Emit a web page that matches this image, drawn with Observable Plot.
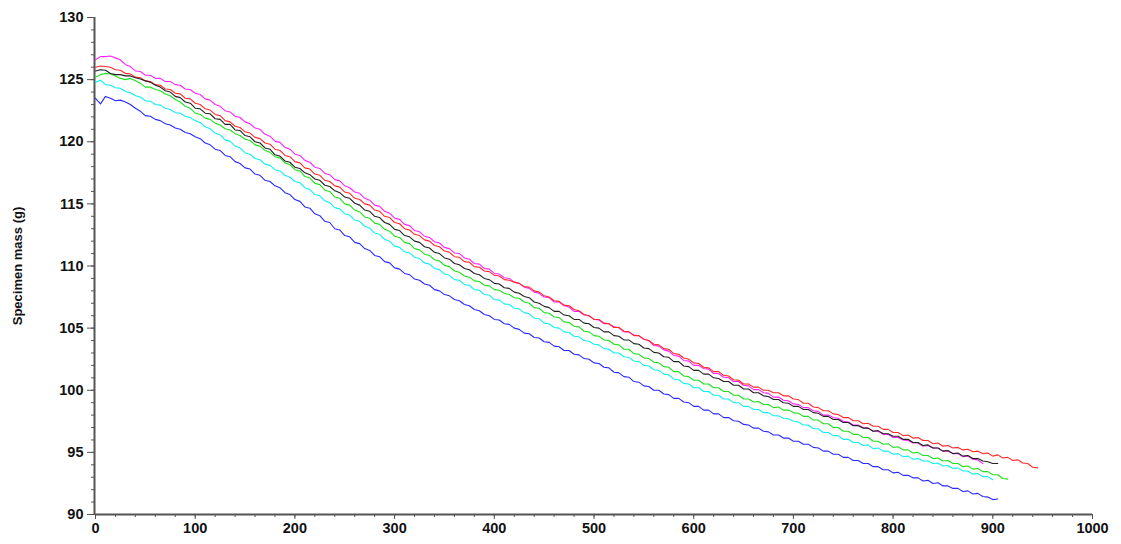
<!DOCTYPE html>
<html>
<head>
<meta charset="utf-8">
<script src="https://cdn.jsdelivr.net/npm/d3@7"></script>
<script src="https://cdn.jsdelivr.net/npm/@observablehq/plot@0.6"></script>
<style>
  html, body { margin: 0; padding: 0; background: #fff; }
  #chart svg { display: block; }
</style>
</head>
<body>
<div id="chart"></div>
<script>
// Sampling grid (s), every 5 s; each series stops at its own length
const times = d3.range(0, 950, 5);

const magenta = [126.6,126.85,126.85,126.9,126.75,126.6,126.2,126.05,125.7,125.65,
  125.35,125.35,125.1,125.1,124.85,124.85,124.6,124.55,124.25,124.2,
  123.9,123.8,123.45,123.35,123.0,122.85,122.5,122.4,122.05,121.95,
  121.6,121.45,121.1,121.0,120.6,120.45,120.05,119.95,119.55,119.4,
  119.0,118.9,118.5,118.35,117.95,117.85,117.45,117.35,116.95,116.85,
  116.45,116.3,115.95,115.85,115.45,115.3,114.9,114.8,114.4,114.25,
  113.85,113.75,113.35,113.25,112.85,112.75,112.4,112.3,111.95,111.85,
  111.5,111.4,111.05,111.0,110.65,110.55,110.2,110.15,109.8,109.75,
  109.4,109.35,109.05,109.0,108.7,108.6,108.3,108.2,107.9,107.8,
  107.5,107.45,107.1,107.1,106.8,106.7,106.35,106.35,106.05,106.0,
  105.7,105.65,105.35,105.35,105.1,105.05,104.7,104.7,104.45,104.4,
  104.1,104.0,103.6,103.55,103.25,103.15,102.8,102.75,102.4,102.35,
  102.0,102.0,101.75,101.7,101.35,101.35,101.05,101.0,100.7,100.7,
  100.4,100.35,100.05,100.05,99.8,99.75,99.45,99.45,99.2,99.15,
  98.9,98.85,98.6,98.6,98.35,98.3,98.0,98.0,97.8,97.75,
  97.5,97.45,97.2,97.2,97.0,96.95,96.7,96.7,96.45,96.45,
  96.2,96.2,96.0,95.95,95.75,95.75,95.5,95.55,95.35,95.35,
  95.1,95.1,94.9,94.9,94.65,94.7,94.45,94.4,94.1];

const red = [126.0,126.1,126.05,126.0,125.8,125.75,125.5,125.45,125.2,125.15,
  124.9,124.85,124.6,124.55,124.25,124.2,123.9,123.85,123.5,123.45,
  123.1,123.0,122.65,122.55,122.2,122.1,121.7,121.6,121.25,121.15,
  120.8,120.7,120.35,120.25,119.9,119.8,119.4,119.3,118.9,118.8,
  118.4,118.3,117.9,117.8,117.4,117.3,116.9,116.8,116.45,116.35,
  115.95,115.85,115.45,115.35,115.0,114.9,114.5,114.4,114.0,113.9,
  113.5,113.4,113.0,112.9,112.55,112.45,112.1,112.0,111.65,111.55,
  111.2,111.1,110.75,110.7,110.35,110.3,109.95,109.9,109.6,109.55,
  109.25,109.2,108.9,108.85,108.7,108.6,108.35,108.3,108.0,107.9,
  107.6,107.5,107.2,107.15,106.85,106.8,106.5,106.4,106.1,106.0,
  105.7,105.7,105.4,105.35,105.05,105.05,104.75,104.7,104.4,104.4,
  104.1,104.0,103.7,103.65,103.35,103.3,102.95,102.9,102.6,102.5,
  102.2,102.15,101.85,101.8,101.5,101.5,101.2,101.15,100.85,100.8,
  100.5,100.5,100.25,100.25,100.0,100.0,99.8,99.8,99.55,99.55,
  99.3,99.25,98.95,98.95,98.65,98.6,98.35,98.35,98.1,98.05,
  97.8,97.8,97.55,97.55,97.3,97.35,97.1,97.1,96.85,96.85,
  96.6,96.6,96.35,96.4,96.15,96.2,95.95,95.95,95.7,95.75,
  95.5,95.55,95.35,95.4,95.2,95.25,95.05,95.1,94.9,94.95,
  94.7,94.8,94.55,94.6,94.35,94.4,94.15,94.1,93.8,93.75];

const black = [125.7,125.8,125.75,125.5,125.4,125.4,125.3,125.3,125.15,125.05,
  124.9,124.8,124.55,124.4,124.1,124.0,123.65,123.55,123.2,123.1,
  122.7,122.65,122.3,122.25,121.85,121.8,121.4,121.4,120.95,120.9,
  120.5,120.4,120.0,119.9,119.5,119.4,118.95,118.85,118.45,118.35,
  117.95,117.85,117.5,117.35,117.0,116.9,116.5,116.4,116.05,115.9,
  115.55,115.45,115.05,114.9,114.5,114.4,114.0,113.9,113.5,113.35,
  112.95,112.85,112.45,112.35,112.0,111.9,111.55,111.45,111.1,111.0,
  110.65,110.55,110.2,110.1,109.8,109.7,109.4,109.3,109.0,108.9,
  108.6,108.55,108.25,108.2,107.9,107.8,107.55,107.45,107.1,107.0,
  106.75,106.65,106.35,106.35,106.05,106.0,105.7,105.7,105.4,105.35,
  105.05,105.0,104.7,104.7,104.4,104.35,104.05,104.05,103.75,103.7,
  103.4,103.35,103.05,103.0,102.7,102.65,102.3,102.3,101.95,101.9,
  101.6,101.6,101.3,101.3,101.0,100.95,100.7,100.7,100.4,100.4,
  100.1,100.1,99.8,99.8,99.55,99.5,99.25,99.25,99.0,98.95,
  98.7,98.7,98.45,98.45,98.2,98.15,97.9,97.9,97.65,97.65,
  97.4,97.4,97.15,97.15,96.95,96.95,96.7,96.75,96.5,96.5,
  96.3,96.3,96.05,96.05,95.8,95.8,95.55,95.6,95.35,95.35,
  95.1,95.15,94.9,94.95,94.7,94.75,94.5,94.5,94.3,94.25,
  94.1,94.1];

const green = [125.2,125.4,125.5,125.45,125.3,125.1,125.0,125.1,124.9,124.7,
  124.4,124.4,124.2,124.1,123.85,123.7,123.4,123.2,122.85,122.7,
  122.3,122.2,121.9,121.8,121.5,121.35,121.05,120.95,120.65,120.5,
  120.2,120.1,119.75,119.65,119.3,119.15,118.8,118.7,118.3,118.15,
  117.75,117.65,117.2,117.1,116.65,116.55,116.1,116.0,115.55,115.45,
  115.0,114.9,114.5,114.35,113.95,113.85,113.45,113.35,112.95,112.8,
  112.4,112.3,111.9,111.8,111.4,111.3,110.95,110.85,110.5,110.4,
  110.05,109.95,109.6,109.5,109.2,109.1,108.8,108.75,108.45,108.4,
  108.1,108.05,107.8,107.7,107.45,107.4,107.1,107.0,106.65,106.6,
  106.25,106.2,105.9,105.85,105.5,105.45,105.15,105.1,104.75,104.7,
  104.4,104.35,104.05,104.0,103.7,103.65,103.3,103.3,102.95,102.9,
  102.6,102.55,102.25,102.2,101.9,101.85,101.5,101.5,101.15,101.1,
  100.8,100.8,100.5,100.5,100.2,100.2,99.9,99.9,99.6,99.6,
  99.3,99.3,99.05,99.1,98.85,98.85,98.6,98.65,98.4,98.4,
  98.2,98.15,97.9,97.9,97.6,97.6,97.3,97.3,97.0,97.0,
  96.7,96.7,96.45,96.45,96.2,96.2,95.9,95.9,95.65,95.7,
  95.4,95.45,95.2,95.2,94.95,95.0,94.75,94.75,94.5,94.55,
  94.3,94.35,94.1,94.1,93.85,93.9,93.65,93.7,93.45,93.45,
  93.2,93.2,92.9,92.85];

const cyan = [124.8,124.95,124.6,124.55,124.35,124.3,124.05,123.95,123.7,123.6,
  123.3,123.25,123.0,122.95,122.7,122.6,122.35,122.3,122.05,121.95,
  121.7,121.55,121.2,121.05,120.7,120.55,120.15,120.05,119.65,119.5,
  119.1,119.0,118.65,118.55,118.2,118.1,117.75,117.65,117.3,117.15,
  116.8,116.7,116.3,116.15,115.75,115.65,115.25,115.1,114.7,114.6,
  114.2,114.1,113.7,113.6,113.2,113.05,112.65,112.55,112.15,112.0,
  111.6,111.5,111.15,111.05,110.7,110.6,110.25,110.15,109.8,109.7,
  109.35,109.25,108.9,108.85,108.5,108.45,108.1,108.05,107.7,107.65,
  107.3,107.25,106.95,106.9,106.6,106.55,106.25,106.15,105.8,105.75,
  105.4,105.35,105.05,105.0,104.7,104.65,104.35,104.3,104.0,103.95,
  103.7,103.65,103.35,103.3,103.0,103.0,102.7,102.65,102.35,102.3,
  102.0,101.95,101.65,101.6,101.3,101.25,100.9,100.85,100.55,100.5,
  100.2,100.2,99.9,99.9,99.6,99.6,99.3,99.3,99.0,99.0,
  98.7,98.7,98.45,98.45,98.2,98.2,97.95,97.95,97.75,97.7,
  97.5,97.45,97.2,97.2,96.9,96.9,96.6,96.6,96.35,96.35,
  96.05,96.05,95.8,95.8,95.55,95.6,95.3,95.35,95.1,95.1,
  94.85,94.9,94.65,94.7,94.45,94.5,94.3,94.3,94.1,94.15,
  93.9,93.95,93.7,93.75,93.5,93.5,93.25,93.3,93.05,93.05,
  92.8];

const blue = [123.5,123.05,123.65,123.5,123.3,123.35,123.2,123.0,122.7,122.45,
  122.1,122.05,121.8,121.7,121.45,121.35,121.1,121.0,120.75,120.65,
  120.4,120.25,119.9,119.75,119.4,119.3,118.9,118.8,118.4,118.25,
  117.9,117.8,117.4,117.3,116.9,116.8,116.45,116.3,115.9,115.75,
  115.35,115.2,114.75,114.65,114.2,114.05,113.6,113.5,113.0,112.9,
  112.45,112.35,111.9,111.8,111.4,111.25,110.85,110.75,110.35,110.25,
  109.85,109.75,109.4,109.3,108.95,108.85,108.55,108.45,108.1,108.0,
  107.7,107.6,107.3,107.2,106.9,106.8,106.5,106.4,106.1,106.0,
  105.7,105.65,105.35,105.3,105.0,104.9,104.6,104.55,104.25,104.2,
  103.9,103.85,103.55,103.5,103.2,103.2,102.9,102.85,102.55,102.5,
  102.2,102.15,101.85,101.8,101.45,101.4,101.1,101.05,100.7,100.65,
  100.35,100.3,100.0,100.0,99.7,99.65,99.35,99.35,99.05,99.0,
  98.7,98.7,98.4,98.4,98.1,98.1,97.8,97.8,97.55,97.5,
  97.25,97.2,96.95,96.95,96.7,96.65,96.4,96.4,96.15,96.15,
  95.9,95.9,95.65,95.65,95.4,95.35,95.1,95.1,94.85,94.85,
  94.6,94.6,94.35,94.35,94.1,94.1,93.85,93.85,93.6,93.6,
  93.35,93.4,93.15,93.15,92.95,92.95,92.7,92.75,92.5,92.55,
  92.3,92.3,92.1,92.1,91.85,91.9,91.65,91.7,91.45,91.4,
  91.2,91.25];

const seriesNames = ["blue", "cyan", "green", "magenta", "red", "black"];
const seriesValues = [blue, cyan, green, magenta, red, black];
const seriesColors = ["#2a2aff", "#10f0f0", "#1ee01e", "#ff22ff", "#ff2a2a", "#222222"];

const xMajor = [0,100,200,300,400,500,600,700,800,900,1000];
const yMajor = [90,95,100,105,110,115,120,125,130];
const xMinor = d3.range(0, 1001, 20);
const yMinor = d3.range(90, 130.5, 1);

const rows = seriesNames.map((name, k) =>
  seriesValues[k].map((v, i) => ({t: times[i], m: v, s: name}))
);

const axisColor = "#555";

const chart = Plot.plot({
  width: 1121,
  height: 544,
  marginLeft: 95,
  marginRight: 29,
  marginTop: 17,
  marginBottom: 30,
  style: {fontFamily: "'Liberation Sans', Arial, sans-serif", color: "#111", background: "#fff"},
  x: {domain: [0, 1000]},
  y: {domain: [90, 130]},
  marks: [
    Plot.axisX({ticks: xMinor, tickSize: 3, text: null, stroke: axisColor, label: null}),
    Plot.axisX({ticks: xMajor, tickSize: 5, tickPadding: 3, tickFormat: "d", fontSize: 14.5, fontWeight: "bold", stroke: axisColor, label: null}),
    Plot.axisY({ticks: yMinor, tickSize: 4, text: null, stroke: axisColor, label: null}),
    Plot.axisY({ticks: yMajor, tickSize: 8, tickPadding: 4, tickFormat: "d", fontSize: 14.5, fontWeight: "bold", stroke: axisColor, label: null}),
    Plot.text(["Specimen mass (g)"], {frameAnchor: "left", textAnchor: "middle", dx: -78, rotate: -90, fontSize: 13, fontWeight: "bold", fill: "#111"}),
    Plot.ruleY([90], {stroke: axisColor, strokeWidth: 2}),
    Plot.ruleX([0], {y1: 90, y2: 130, stroke: axisColor, strokeWidth: 2, dx: -1}),
    ...rows.map((r, k) => Plot.line(r, {x: "t", y: "m", stroke: seriesColors[k], strokeWidth: 1.1}))
  ]
});

document.getElementById("chart").appendChild(chart);
</script>
</body>
</html>
